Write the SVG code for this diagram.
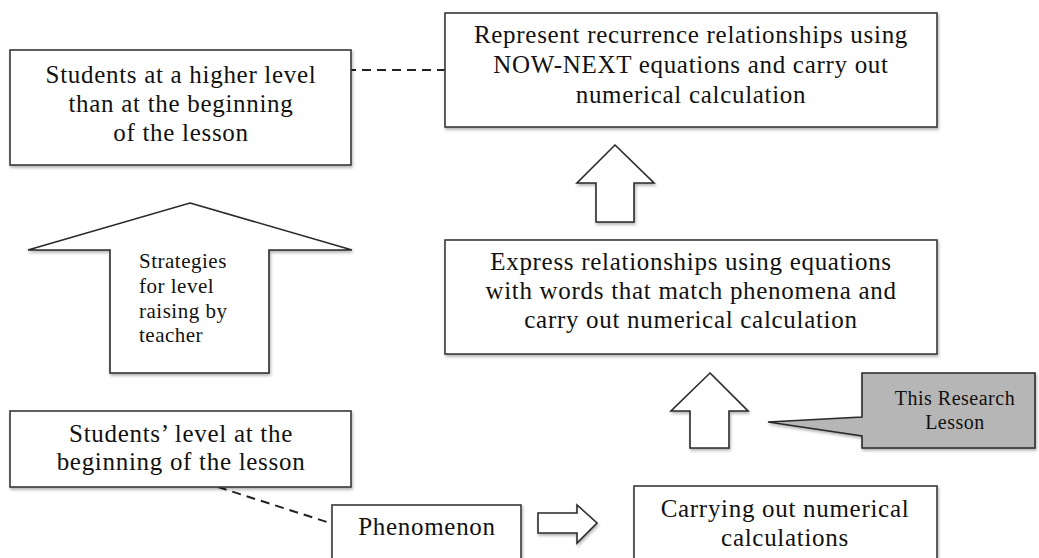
<svg xmlns="http://www.w3.org/2000/svg" width="1039" height="558" viewBox="0 0 1039 558">
<defs>
<filter id="sh" x="-10%" y="-10%" width="130%" height="140%">
<feDropShadow dx="1" dy="2" stdDeviation="1.5" flood-color="#000" flood-opacity="0.3"/>
</filter>
</defs>
<style>
.box{fill:#fff;stroke:#3a3a3a;stroke-width:1.6;filter:url(#sh)}
.arr{fill:#fff;stroke:#2a2a2a;stroke-width:1.6;filter:url(#sh)}
.call{fill:#b6b6b6;stroke:#2a2a2a;stroke-width:1.6;filter:url(#sh)}
.t{font-family:"Liberation Serif","Times New Roman",serif;font-size:25px;letter-spacing:0.7px;fill:#111;text-anchor:middle}
.s{font-family:"Liberation Serif","Times New Roman",serif;font-size:21px;letter-spacing:0.5px;fill:#111}
.c{font-family:"Liberation Serif","Times New Roman",serif;font-size:20px;letter-spacing:0.5px;fill:#111;text-anchor:middle}
.dash{fill:none;stroke:#222;stroke-width:2;stroke-dasharray:9 6}
</style>
<rect width="1039" height="558" fill="#fff"/>
<g id="connectors">
<line class="dash" x1="332" y1="70" x2="460" y2="70"/>
<line class="dash" x1="218" y1="487" x2="330" y2="523"/>
</g>
<g id="higher-level">
<rect class="box" x="10" y="50" width="341" height="115"/>
<text class="t" x="181" y="83">Students at a higher level</text>
<text class="t" x="181" y="112">than at the beginning</text>
<text class="t" x="181" y="141">of the lesson</text>
</g>
<g id="recurrence">
<rect class="box" x="445" y="13" width="492" height="114"/>
<text class="t" x="691" y="43">Represent recurrence relationships using</text>
<text class="t" x="691" y="73">NOW-NEXT equations and carry out</text>
<text class="t" x="691" y="103">numerical calculation</text>
</g>
<g id="up-arrow-1">
<path class="arr" d="M615,145 L654,183 H634 V222 H596 V183 H577 Z"/>
</g>
<g id="express">
<rect class="box" x="445" y="240" width="492" height="114"/>
<text class="t" x="691" y="270">Express relationships using equations</text>
<text class="t" x="691" y="299">with words that match phenomena and</text>
<text class="t" x="691" y="328">carry out numerical calculation</text>
</g>
<g id="up-arrow-2">
<path class="arr" d="M710,373 L748,411 H729 V448 H690 V411 H671 Z"/>
</g>
<g id="research-lesson">
<path class="call" d="M862,373 H1035 V448 H862 V436 L768,422 L862,417 Z"/>
<text class="c" x="955" y="405">This Research</text>
<text class="c" x="955" y="429">Lesson</text>
</g>
<g id="strategies">
<path class="arr" d="M190,203 L352,250 H269 V373 H110 V250 H28 Z"/>
<text class="s" x="139" y="268">Strategies</text>
<text class="s" x="139" y="293">for level</text>
<text class="s" x="139" y="318">raising by</text>
<text class="s" x="139" y="342">teacher</text>
</g>
<g id="students-level">
<rect class="box" x="10" y="411" width="341" height="76"/>
<text class="t" x="181" y="442">Students’ level at the</text>
<text class="t" x="181" y="470">beginning of the lesson</text>
</g>
<g id="phenomenon">
<rect class="box" x="332" y="505" width="189" height="70"/>
<text class="t" x="427" y="535">Phenomenon</text>
</g>
<g id="right-arrow">
<path class="arr" d="M538,513 H577 V505 L597,523 L577,543 V533 H538 Z"/>
</g>
<g id="carrying">
<rect class="box" x="634" y="486" width="303" height="90"/>
<text class="t" x="785" y="517">Carrying out numerical</text>
<text class="t" x="785" y="546">calculations</text>
</g>
</svg>
